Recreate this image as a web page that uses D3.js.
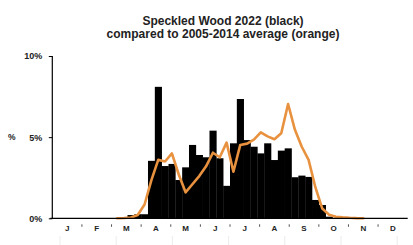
<!DOCTYPE html>
<html>
<head>
<meta charset="utf-8">
<script src="https://cdn.jsdelivr.net/npm/d3@7"></script>
<style>
  html, body { margin: 0; padding: 0; background: #fff; }
  svg { display: block; }
  text { font-family: "Liberation Sans", Arial, sans-serif; font-weight: bold; fill: #222; }
</style>
</head>
<body>
<script>
// ---- data ----
const titleLines = ["Speckled Wood 2022 (black)", "compared to 2005-2014 average (orange)"];
const months = ["J", "F", "M", "A", "M", "J", "J", "A", "S", "O", "N", "D"];
const yTicks = [0, 5, 10];
// weekly % of annual count, 2022 (weeks 0..51)
const bars2022 = [
  0, 0, 0, 0, 0, 0, 0, 0, 0, 0,
  0, 0.2, 0.25, 0.25, 3.54, 8.1, 3.22, 3.35, 2.36, 3.14,
  4.52, 3.9, 3.76, 5.4, 3.7, 2.0, 4.62, 7.35, 4.82, 4.41,
  4.0, 4.62, 3.59, 4.17, 4.31, 2.53, 2.63, 2.55, 1.13, 0.82,
  0.1, 0, 0, 0, 0, 0, 0, 0, 0, 0,
  0, 0
];
// 2005-2014 average, weeks 9..45
const avgStartWeek = 9;
const avg0514 = [
  0, 0.02, 0.05, 0.2, 0.85, 2.35, 3.6, 3.5, 4.0, 2.7,
  1.6, 2.1, 2.6, 3.2, 4.04, 3.76, 4.66, 2.87, 4.52, 4.6,
  4.85, 5.3, 5.05, 4.87, 5.24, 7.04, 5.45, 4.41, 3.6, 1.9,
  0.6, 0.22, 0.1, 0.06, 0.03, 0.01, 0
];

// ---- layout ----
const W = 413, H = 245;
const x0 = 52.3, x1 = 407.7, yTop = 56, yBot = 218.3;

const svg = d3.select("body").append("svg").attr("width", W).attr("height", H);

const xWeek = d3.scaleBand().domain(d3.range(bars2022.length)).range([x0, x1]).padding(0);
const xMonth = d3.scaleBand().domain(d3.range(months.length)).range([x0, x1]).padding(0);
const y = d3.scaleLinear().domain([0, 10]).range([yBot, yTop]);

// title
svg.append("g").selectAll("text").data(titleLines).join("text")
  .attr("x", 223).attr("y", (d, i) => 24.8 + i * 13.6)
  .attr("text-anchor", "middle").attr("font-size", 12).text(d => d);

// bars
svg.append("g").selectAll("rect").data(bars2022.map((v, i) => ({ v, i })).filter(d => d.v > 0)).join("rect")
  .attr("x", d => xWeek(d.i)).attr("width", xWeek.bandwidth() + 0.3)
  .attr("y", d => y(d.v)).attr("height", d => y(0) - y(d.v))
  .attr("fill", "#000");

// average line
const avgPts = avg0514.map((v, k) => ({ i: avgStartWeek + k, v }));
svg.append("path").datum(avgPts)
  .attr("fill", "none").attr("stroke", "#e8913e").attr("stroke-width", 2.6)
  .attr("stroke-linejoin", "round").attr("stroke-linecap", "round")
  .attr("d", d3.line().x(d => xWeek(d.i) + xWeek.bandwidth() / 2).y(d => y(d.v)));

// y axis
const yAxis = svg.append("g").attr("transform", `translate(${x0},0)`)
  .call(d3.axisLeft(y).tickValues(yTicks).tickSize(3.5).tickFormat(d => d + "%"));
yAxis.select(".domain").attr("stroke", "#000").attr("stroke-width", 1.2).attr("d", `M0,${yTop}V${yBot}`);
yAxis.selectAll(".tick line").attr("stroke", "#000");
yAxis.selectAll(".tick text").attr("font-size", 9).attr("x", -10).attr("fill", "#333")
  .style("font-family", "'Liberation Sans', Arial, sans-serif").style("font-weight", "bold");

svg.append("text").attr("x", 8).attr("y", 140).attr("font-size", 8.5).attr("fill", "#333").text("%");

// x axis
const xAxis = svg.append("g").attr("transform", `translate(0,${yBot})`)
  .call(d3.axisBottom(xMonth).tickSize(0).tickFormat(i => months[i]));
xAxis.select(".domain").attr("stroke", "#000").attr("stroke-width", 1.2).attr("d", `M${x0 - 2},0H${x1}`);
xAxis.selectAll(".tick text").attr("font-size", 8).attr("y", 7).attr("dy", "0.71em").attr("fill", "#333")
  .style("font-family", "'Liberation Sans', Arial, sans-serif").style("font-weight", "bold");

// small month-boundary marks
svg.append("g").selectAll("line").data(d3.range(1, months.length)).join("line")
  .attr("x1", i => xMonth(i)).attr("x2", i => xMonth(i))
  .attr("y1", yBot + 6).attr("y2", yBot + 8.5)
  .attr("stroke", "#555").attr("stroke-width", 1);

// faint lines at bottom edge
svg.append("g").selectAll("line").data(d3.range(0, 7)).join("line")
  .attr("x1", i => 60 + i * 56.2).attr("x2", i => 60 + i * 56.2)
  .attr("y1", 236).attr("y2", 245)
  .attr("stroke", "#ececec").attr("stroke-width", 1);
</script>
</body>
</html>
